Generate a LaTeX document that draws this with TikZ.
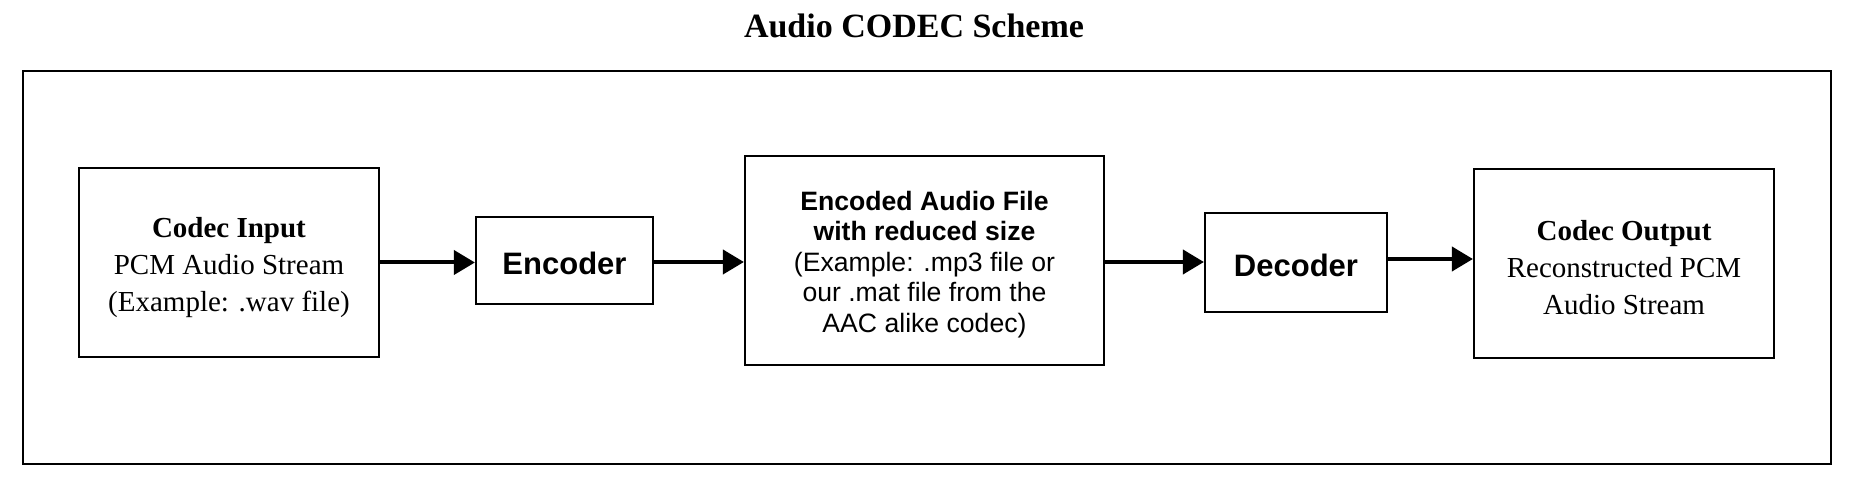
\documentclass[tikz,border=0pt]{standalone}
\usepackage{fontspec}
\setmainfont{Liberation Serif}
\setsansfont{Liberation Sans}
\usetikzlibrary{arrows.meta}
\tikzset{
  blk/.style={draw=black, line width=1.1pt, rectangle, inner sep=0pt},
  txt/.style={inner sep=0pt, align=center},
  seriftxt/.style={txt, font=\fontsize{14.5}{18.3}\selectfont},
  sansbig/.style={txt, font=\sffamily\bfseries\fontsize{15.5}{18}\selectfont},
  sanssmall/.style={txt, font=\sffamily\fontsize{13.3}{15.25}\selectfont},
  arr/.style={line width=2pt, -{Triangle[length=10.5pt,width=12pt]}},
}
\begin{document}
\begin{tikzpicture}[x=0.5pt,y=-0.5pt]
\useasboundingbox (0,0) rectangle (1864,496);
\node[anchor=base, font=\bfseries\fontsize{17}{20}\selectfont] (title) at (914,37.5) {Audio CODEC Scheme};
\node[draw=black, line width=1pt, rectangle, inner sep=0pt, minimum width=904pt, minimum height=196.5pt] (frame) at (927,267.5) {};
% boxes
\node[blk, minimum width=150pt, minimum height=94.5pt] (in) at (229,262.5) {};
\node[blk, minimum width=88.5pt, minimum height=43.5pt] (enc) at (564.5,260.5) {};
\node[blk, minimum width=179.5pt, minimum height=104.5pt] (encd) at (924.5,260.5) {};
\node[blk, minimum width=91pt, minimum height=49.5pt] (dec) at (1296,262.5) {};
\node[blk, minimum width=150pt, minimum height=94.5pt] (out) at (1624,263.5) {};
% texts
\node[seriftxt] (inT) at ([yshift=-2.5pt]in.center)
  {\textbf{Codec Input}\\PCM Audio Stream\\(Example: .wav file)};
\node[sansbig] (encT) at ([yshift=-1.5pt]enc.center) {Encoder};
\node[sanssmall] (encdT) at ([yshift=-2pt]encd.center)
  {\textbf{Encoded Audio File}\\\textbf{with reduced size}\\(Example: .mp3 file or\\our .mat file from the\\AAC alike codec)};
\node[sansbig] (decT) at ([yshift=-1.5pt]dec.center) {Decoder};
\node[seriftxt] (outT) at ([yshift=-2pt]out.center)
  {\textbf{Codec Output}\\Reconstructed PCM\\Audio Stream};
% connectors
\draw[arr] (in.east) -- (in.east -| enc.west);
\draw[arr] ([yshift=-0.75pt]enc.east) -- ([yshift=-0.75pt]enc.east -| encd.west);
\draw[arr] ([yshift=-0.75pt]encd.east) -- ([yshift=-0.75pt]encd.east -| dec.west);
\draw[arr] ([yshift=1.75pt]dec.east) -- ([yshift=1.75pt]dec.east -| out.west);
\end{tikzpicture}
\end{document}
